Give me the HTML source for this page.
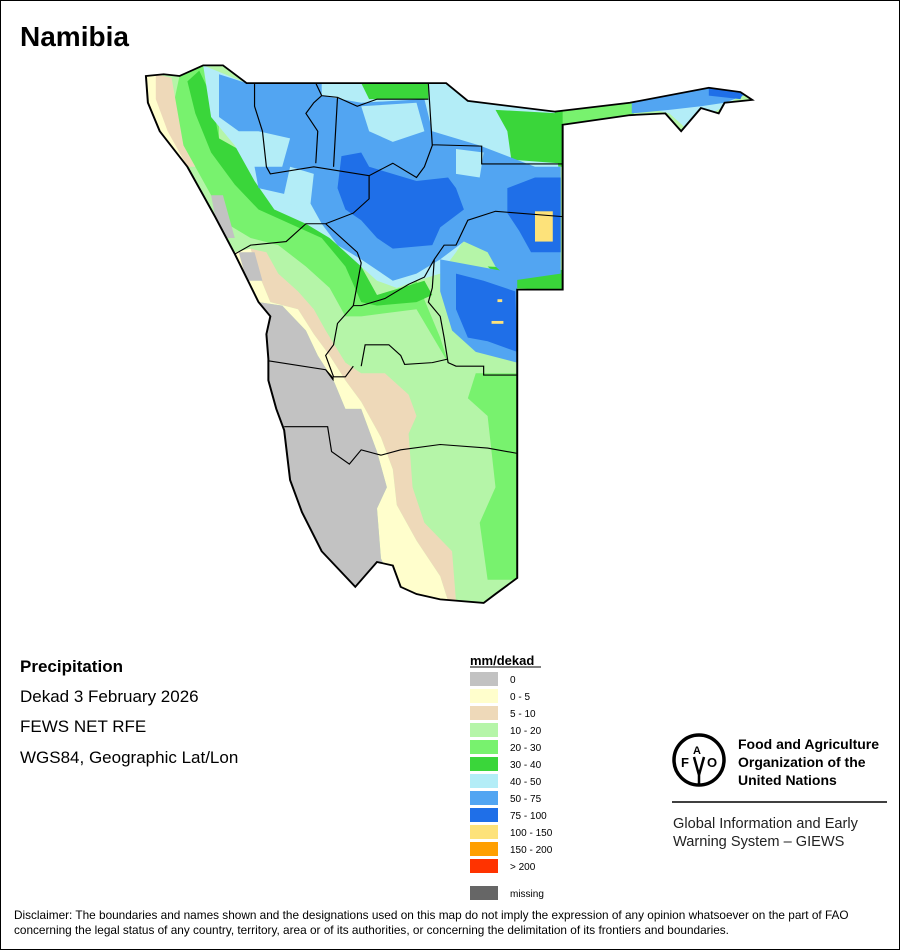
<!DOCTYPE html>
<html><head><meta charset="utf-8">
<style>
html,body{margin:0;padding:0;background:#fff;}
#c{position:relative;width:898px;height:948px;border:1px solid #000;overflow:hidden;font-family:"Liberation Sans",Arial,sans-serif;color:#000;}
.t{position:absolute;white-space:nowrap;}
</style></head><body><div id="c">
<svg width="900" height="950" style="position:absolute;left:-1px;top:-1px">
<defs><clipPath id="nam"><path id="outl" d="M15,45 L60,40 L100,45 L160,15 L210,15 L270,65 L775,65 L830,115 L1050,145 L1240,120 L1440,78 L1520,90 L1550,112 L1480,120 L1465,150 L1420,135 L1370,200 L1330,150 L1240,155 L1070,182 L1070,645 L955,645 L955,1455 L900,1500 L870,1525 L760,1515 L700,1500 L660,1480 L640,1420 L600,1410 L545,1480 L460,1380 L410,1270 L380,1180 L365,1040 L345,980 L325,900 L325,840 L320,770 L330,720 L300,680 L240,545 L190,440 L160,380 L120,300 L50,200 L20,120 Z"/></clipPath></defs>
<g transform="translate(140,60) scale(0.395,0.356)">
<g clip-path="url(#nam)">
<rect x="0" y="0" width="1600" height="1600" fill="#b5f5a8"/>
<path fill="#78f26e" d="M850,880 L960,880 L960,1460 L880,1460 L860,1300 L900,1200 L880,1000 L830,950 Z"/>
<path fill="#78f26e" d="M1050,130 L1250,110 L1250,160 L1050,190 Z"/>
<path fill="#78f26e" d="M100,45 L160,15 L200,40 L200,250 L260,300 L330,400 L400,460 L470,480 L540,560 L560,640 L620,680 L700,620 L730,700 L760,780 L780,850 L700,700 L560,720 L520,720 L480,640 L420,580 L350,520 L280,500 L220,460 L170,360 L110,240 L80,150 Z"/>
<path fill="#3ad63a" d="M150,30 L180,100 L200,220 L280,270 L330,380 L420,440 L480,500 L540,540 L570,600 L600,660 L660,640 L720,620 L740,660 L700,680 L600,690 L560,680 L520,580 L460,500 L380,460 L300,420 L240,350 L180,260 L140,150 L120,60 Z"/>
<path fill="#3ad63a" d="M560,60 L740,60 L740,110 L560,110 Z M870,120 L1070,140 L1070,300 L940,290 L880,240 Z M880,580 L1070,590 L1070,650 L940,640 Z"/>
<path fill="#b3edf7" d="M160,15 L270,65 L775,65 L830,115 L1050,145 L1060,320 L920,330 L870,420 L800,540 L760,600 L700,620 L650,640 L600,620 L540,560 L480,500 L420,460 L340,420 L290,340 L240,240 L180,160 Z"/>
<path fill="#3ad63a" d="M560,65 L730,65 L730,110 L580,110 Z M900,140 L1060,150 L1060,290 L940,280 L930,200 Z"/>
<path fill="#52a5f2" d="M200,40 L270,65 L460,65 L460,100 L560,120 L720,110 L740,200 L860,240 L1000,300 L1065,300 L1065,600 L940,620 L900,580 L880,540 L820,510 L760,560 L700,600 L640,620 L560,560 L500,520 L460,460 L430,400 L380,380 L300,360 L290,300 L360,300 L380,220 L300,200 L250,200 L200,160 Z"/>
<path fill="#52a5f2" d="M760,560 L955,600 L955,850 L850,820 L790,760 L760,650 Z"/>
<path fill="#b3edf7" d="M560,130 L700,120 L720,200 L640,230 L580,200 Z M380,300 L440,320 L430,420 L360,400 Z M800,250 L870,260 L860,330 L800,320 Z"/>
<path fill="#1f6fe8" d="M510,270 L560,260 L580,300 L700,340 L780,330 L800,360 L820,420 L760,470 L740,520 L640,530 L600,500 L560,450 L520,420 L500,360 Z M930,360 L1000,330 L1065,330 L1065,540 L990,540 L960,480 L930,430 Z M800,600 L870,620 L950,650 L955,820 L880,790 L830,780 L800,700 Z"/>
<path fill="#b3edf7" d="M1250,125 L1440,90 L1520,100 L1480,130 L1380,190 L1340,150 Z"/>
<path fill="#52a5f2" d="M1245,100 L1440,75 L1540,95 L1480,120 L1420,130 L1340,140 L1245,150 Z"/>
<path fill="#1f6fe8" d="M1440,75 L1530,85 L1520,110 L1440,100 Z"/>
<rect fill="#fde27a" x="1000" y="425" width="45" height="85"/>
<rect fill="#fde27a" x="890" y="733" width="30" height="8"/>
<rect fill="#fde27a" x="905" y="672" width="12" height="8"/>
<path fill="#fffecc" d="M0,0 L40,0 L90,200 L120,300 L70,300 L10,150 Z"/>
<path fill="#eed9b9" d="M40,40 L80,50 L110,240 L140,300 L120,300 L70,200 L40,110 Z"/>
<path fill="#eed9b9" d="M280,530 L320,540 L350,600 L400,650 L440,700 L470,760 L520,850 L560,880 L620,880 L680,940 L700,1000 L680,1050 L690,1200 L720,1300 L790,1380 L800,1520 L780,1520 L760,1450 L700,1350 L650,1250 L640,1150 L610,1060 L560,960 L520,900 L480,830 L440,770 L400,700 L330,680 L300,600 Z"/>
<path fill="#fffecc" d="M240,540 L280,530 L300,600 L330,680 L400,700 L440,770 L480,830 L520,900 L560,960 L610,1060 L640,1150 L650,1250 L700,1350 L760,1450 L780,1520 L700,1510 L640,1470 L610,1400 L600,1260 L625,1200 L600,1100 L560,980 L520,980 L490,900 L450,830 L420,760 L360,690 L300,680 Z"/>
<path fill="#c2c2c2" d="M300,680 L360,690 L420,760 L450,830 L490,900 L520,980 L560,980 L600,1100 L625,1200 L600,1260 L610,1400 L640,1470 L700,1500 L640,1600 L300,1600 L200,700 Z"/>
<path fill="#c2c2c2" d="M180,380 L210,380 L240,500 L200,500 Z M250,540 L290,540 L310,620 L270,620 Z"/>
<g fill="none" stroke="#000" stroke-width="3">
<path d="M290,65 L290,130 L310,200 L320,300 L330,320 L440,300 L580,325 L640,290 L700,330 L720,300 L740,240 L730,65 M740,238 L865,242 L865,292 L1070,292 M445,65 L460,100 L500,105 L490,300 M460,100 L440,120 L420,150 L450,200 L445,290 M500,105 L550,130 L600,110 L730,110 M580,325 L580,390 L540,430 L470,460 L420,460 L370,510 L280,520 L240,545 M470,460 L550,540 L560,570 L540,690 L560,690 L620,670 L680,630 L720,610 L745,560 L770,520 L800,520 L830,450 L900,425 L1070,440 M745,560 L740,640 L730,680 L760,720 L770,780 L780,850 L800,860 L870,860 L870,885 L955,885 M540,690 L500,740 L490,800 L470,830 L490,890 L520,890 L540,860 M325,845 L470,870 L490,900 M560,860 L570,800 L630,800 L660,830 L670,855 L740,850 L780,840 M365,1030 L475,1030 L485,1100 L530,1135 L560,1095 L610,1110 L660,1095 L760,1080 L880,1090 L955,1105 M470,870 L490,895"/>
</g>
</g>
<use href="#outl" fill="none" stroke="#000" stroke-width="5"/>
</g>
<g>
<rect x="470" y="672" width="28" height="14" fill="#c2c2c2"/>
<rect x="470" y="689" width="28" height="14" fill="#fffecc"/>
<rect x="470" y="706" width="28" height="14" fill="#eed9b9"/>
<rect x="470" y="723" width="28" height="14" fill="#b5f5a8"/>
<rect x="470" y="740" width="28" height="14" fill="#78f26e"/>
<rect x="470" y="757" width="28" height="14" fill="#3ad63a"/>
<rect x="470" y="774" width="28" height="14" fill="#b3edf7"/>
<rect x="470" y="791" width="28" height="14" fill="#52a5f2"/>
<rect x="470" y="808" width="28" height="14" fill="#1f6fe8"/>
<rect x="470" y="825" width="28" height="14" fill="#fde27a"/>
<rect x="470" y="842" width="28" height="14" fill="#ff9f00"/>
<rect x="470" y="859" width="28" height="14" fill="#ff3300"/>
<rect x="470" y="886" width="28" height="14" fill="#666"/>
<g font-family="Liberation Sans, sans-serif" font-size="10" fill="#000">
<text x="510" y="683">0</text><text x="510" y="700">0 - 5</text><text x="510" y="717">5 - 10</text>
<text x="510" y="734">10 - 20</text><text x="510" y="751">20 - 30</text><text x="510" y="768">30 - 40</text>
<text x="510" y="785">40 - 50</text><text x="510" y="802">50 - 75</text><text x="510" y="819">75 - 100</text>
<text x="510" y="836">100 - 150</text><text x="510" y="853">150 - 200</text><text x="510" y="870">&gt; 200</text>
<text x="510" y="897">missing</text>
</g>
<text x="470" y="665" font-family="Liberation Sans, sans-serif" font-size="13" font-weight="bold">mm/dekad</text>
<line x1="470" y1="667" x2="541" y2="667" stroke="#000" stroke-width="1"/>
</g>
<g>
<circle cx="699" cy="760" r="25" fill="none" stroke="#000" stroke-width="3.5"/>
<text x="681" y="767" font-size="13" font-weight="bold" font-family="Liberation Sans">F</text>
<text x="693" y="754" font-size="11" font-weight="bold" font-family="Liberation Sans">A</text>
<text x="707" y="767" font-size="13" font-weight="bold" font-family="Liberation Sans">O</text>
<path d="M694,757 L699,775 L704,757 M699,775 L699,784" stroke="#000" stroke-width="2.5" fill="none"/>
<line x1="672" y1="802" x2="887" y2="802" stroke="#000" stroke-width="1.5"/>
<g font-family="Liberation Sans, sans-serif" font-size="14" font-weight="bold">
<text x="738" y="749">Food and Agriculture</text>
<text x="738" y="767">Organization of the</text>
<text x="738" y="785">United Nations</text>
</g>
<g font-family="Liberation Sans, sans-serif" font-size="14.6" fill="#222">
<text x="673" y="828">Global Information and Early</text>
<text x="673" y="846">Warning System – GIEWS</text>
</g>
</g>
</svg>
<div class="t" style="left:19px;top:20px;font-size:28px;font-weight:bold;">Namibia</div>
<div class="t" style="left:19px;top:656px;font-size:17px;font-weight:bold;">Precipitation</div>
<div class="t" style="left:19px;top:686px;font-size:17px;">Dekad 3 February 2026</div>
<div class="t" style="left:19px;top:716px;font-size:17px;">FEWS NET RFE</div>
<div class="t" style="left:19px;top:747px;font-size:17px;">WGS84, Geographic Lat/Lon</div>
<div class="t" style="left:13px;top:907px;font-size:11.8px;line-height:15px;">Disclaimer: The boundaries and names shown and the designations used on this map do not imply the expression of any opinion whatsoever on the part of FAO<br>concerning the legal status of any country, territory, area or of its authorities, or concerning the delimitation of its frontiers and boundaries.</div>
</div></body></html>
